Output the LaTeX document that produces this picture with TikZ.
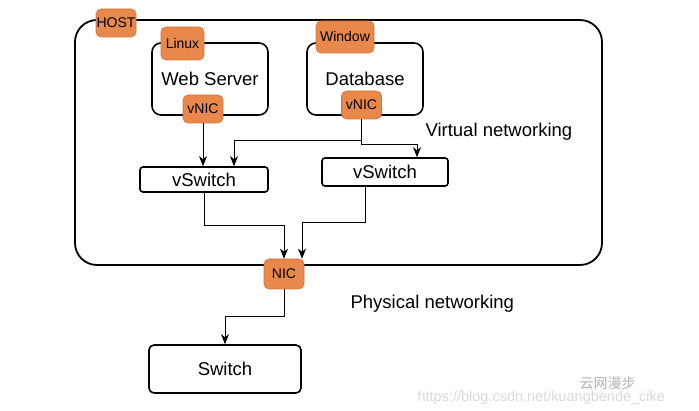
\documentclass[tikz,border=0pt]{standalone}
\usepackage{fontspec}
\setmainfont{Liberation Sans}
\newfontfamily\cjk{Noto Sans CJK SC}
\usetikzlibrary{arrows.meta}
\definecolor{tagfill}{RGB}{232,136,74}
\definecolor{tagline}{RGB}{214,116,56}

\begin{document}
\begin{tikzpicture}[x=1pt,y=-1pt,
   box/.style={draw, line width=1.6pt, rounded corners=9pt, inner sep=0pt, font=\fontsize{18.5}{20}\selectfont},
   swbox/.style={draw, line width=1.6pt, rounded corners=3pt, inner sep=0pt, font=\fontsize{18.5}{20}\selectfont},
   tag/.style={draw=tagline, fill=tagfill, line width=0.6pt, rounded corners=5pt, inner sep=0pt, font=\fontsize{14}{15}\selectfont},
   arr/.style={line width=0.8pt, -{Stealth[length=10pt,width=8pt,inset=3pt]}},
   lbl/.style={font=\fontsize{18.5}{20}\selectfont, anchor=west}]
      \useasboundingbox (0,0) rectangle (699,411);
      \node[name=host, draw, line width=1.8pt, rounded corners=22pt, minimum width=527pt, minimum height=245pt] at (338.5,142.5){};
      \node[name=hosttag, tag, minimum width=40pt, minimum height=28pt] at (116,23){HOST};
      \node[name=web, box, minimum width=116pt, minimum height=72pt] at (210,79){Web Server};
      \node[name=linuxtag, tag, minimum width=43pt, minimum height=33pt] at (182.5,43.5){Linux};
      \node[name=webnic, tag, minimum width=40pt, minimum height=28pt] at (203,109){vNIC};
      \node[name=db, box, minimum width=116pt, minimum height=72pt] at (365,79){Database};
      \node[name=wintag, tag, minimum width=58pt, minimum height=32pt] at (345,37){Window};
      \node[name=dbnic, tag, minimum width=40pt, minimum height=28pt] at (361.5,105){vNIC};
      \node[name=vsw1, swbox, minimum width=128pt, minimum height=25pt] at (204,179.5){vSwitch};
      \node[name=vsw2, swbox, minimum width=126pt, minimum height=28pt] at (385,172){vSwitch};
      \node[name=nic, tag, minimum width=40pt, minimum height=30pt] at (284,274){NIC};
      \node[name=switch, swbox, rounded corners=5pt, minimum width=152pt, minimum height=48pt] at (225,369){Switch};
      \node[name=virt, lbl] at (422,132){Virtual networking};
      \node[name=phys, lbl] at (347,304){Physical networking};
      \draw[arr] (webnic.south) -- (webnic.south |- vsw1.north);
      \draw[arr] (dbnic.south) -- ++(0,21) -| ([xshift=30]vsw1.north);
      \draw[arr] (dbnic.south) -- ++(0,25) -| ([xshift=32]vsw2.north);
      \draw[arr] (vsw1.south) -- ++(0,33) -| (nic.north);
      \draw[arr] ([xshift=-20]vsw2.south) -- ++(0,36) -| ([xshift=18]nic.north);
      \draw[arr] (nic.south) -- ++(0,27) -| (switch.north);
      \node[name=wm1, text=black!30, font=\cjk\fontsize{14}{15}\selectfont, anchor=west] at (576,383){云网漫步};
      \node[name=wm2, text=black!15, font=\fontsize{14.5}{15}\selectfont, anchor=west] at (414,398){https://blog.csdn.net/kuangbende\_cike};
   \end{tikzpicture}
\end{document}
